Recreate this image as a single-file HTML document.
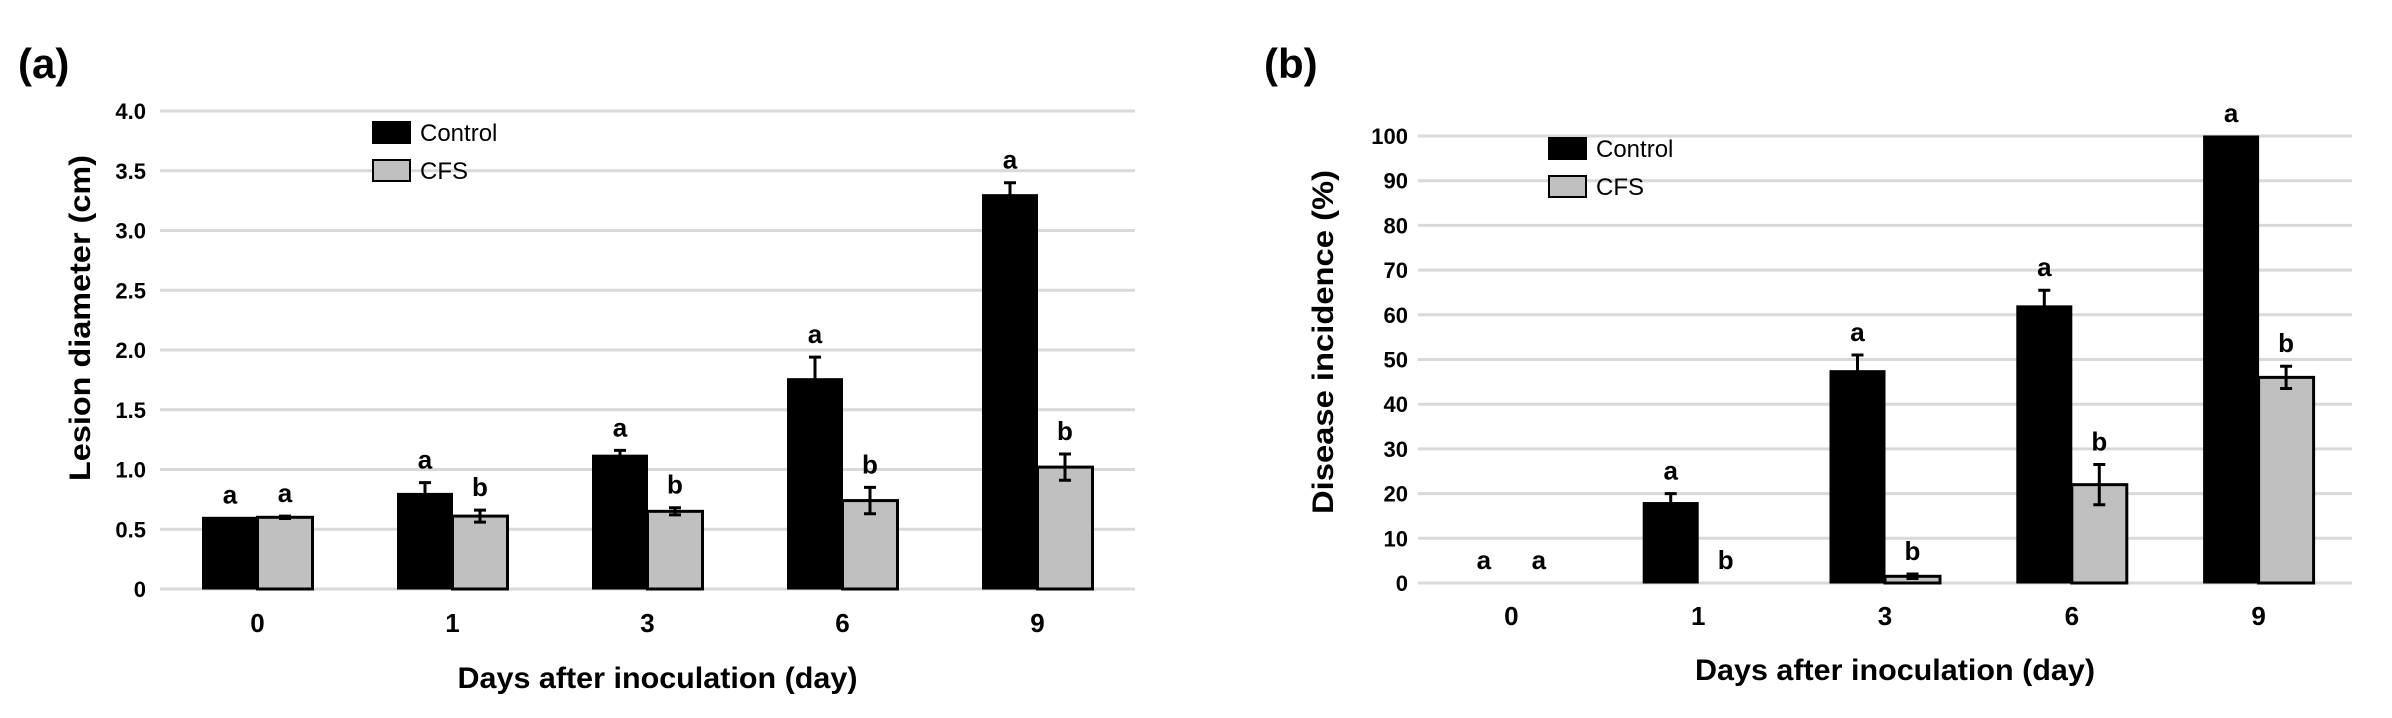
<!DOCTYPE html>
<html><head><meta charset="utf-8"><style>
html,body{margin:0;padding:0;background:#fff;width:2392px;height:718px;overflow:hidden}
svg{display:block;font-family:"Liberation Sans",Arial,sans-serif;font-weight:bold}
</style></head><body>
<svg id="chart" width="2392" height="718" viewBox="0 0 2392 718" xmlns="http://www.w3.org/2000/svg">
<text x="18" y="78" font-size="42">(a)</text>
<text x="1264" y="78" font-size="42">(b)</text>
</svg>
<script>
const categories = ["0","1","3","6","9"];
const aControl = [0.6, 0.8, 1.12, 1.76, 3.3];
const aControlErr = [0, 0.09, 0.04, 0.18, 0.1];
const aCFS = [0.6, 0.61, 0.65, 0.74, 1.02];
const aCFSErr = [0.01, 0.05, 0.03, 0.11, 0.11];
const aControlLetters = ["a","a","a","a","a"];
const aCFSLetters = ["a","b","b","b","b"];
const aTicks = [0, 0.5, 1.0, 1.5, 2.0, 2.5, 3.0, 3.5, 4.0];
const aTickLabels = ["0","0.5","1.0","1.5","2.0","2.5","3.0","3.5","4.0"];
const bControl = [0, 18, 47.5, 62, 100];
const bControlErr = [0, 2, 3.5, 3.5, 0];
const bCFS = [0, 0, 1.5, 22, 46];
const bCFSErr = [0, 0, 0.5, 4.5, 2.5];
const bControlLetters = ["a","a","a","a","a"];
const bCFSLetters = ["a","b","b","b","b"];
const bTicks = [0,10,20,30,40,50,60,70,80,90,100];
const bTickLabels = ["0","10","20","30","40","50","60","70","80","90","100"];

const svg = document.getElementById('chart');
const NS = 'http://www.w3.org/2000/svg';
function mk(tag, attrs, parent){const e=document.createElementNS(NS,tag);for(const k in attrs)e.setAttribute(k,attrs[k]);(parent||svg).appendChild(e);return e;}

function panel(cfg){
  const g = mk('g',{});
  
  
  const y = v => cfg.y0 - (v - 0) / cfg.max * (cfg.y0 - cfg.yTop);
  const band = (cfg.x1 - cfg.x0) / categories.length;
  const xc = i => cfg.x0 + band * (i + 0.5);
  const bw = 55;
  cfg.ticks.forEach((t, i) => {
    const ln = mk('line',{x1:cfg.x0,x2:cfg.x1,y1:y(t),y2:y(t),stroke:'#d9d9d9','stroke-width':3},g);
    
    
    const tx = mk('text',{x:cfg.tickX,y:y(t)+8,'font-size':22,'text-anchor':'end'},g);
    
    
    tx.textContent = cfg.tickLabels[i];
  });
  categories.forEach((c, i) => {
    const cx = xc(i);
    const vals = [cfg.ctrl[i], cfg.cfs[i]], errs = [cfg.ctrlErr[i], cfg.cfsErr[i]];
    const lets = [cfg.ctrlL[i], cfg.cfsL[i]];
    [0,1].forEach(s => {
      const bx = cx - bw + s * bw, v = vals[s];
      if (v > 0) {
        const r = mk('rect',{x:bx,y:y(v),width:bw,height:y(0)-y(v),fill:s?'#c0c0c0':'#000',stroke:'#000','stroke-width':s?3:1},g);
        
        
      }
      let top = y(v);
      if (errs[s] > 0) {
        const ex = bx + bw/2, t = y(v+errs[s]), b = y(Math.max(0,v-errs[s]));
        const eg = mk('path',{d:`M${ex},${t}V${b}M${ex-6},${t}H${ex+6}M${ex-6},${b}H${ex+6}`,stroke:'#000','stroke-width':3,fill:'none'},g);
        
        
        top = t;
      }
      const lt = mk('text',{x:bx+bw/2,y:Math.min(top, y(0)) - 14,'font-size':26,'text-anchor':'middle'},g);
      
      
      lt.textContent = lets[s];
    });
    const cl = mk('text',{x:cx,y:cfg.catY,'font-size':26,'text-anchor':'middle'},g);
    
    
    cl.textContent = c;
  });
  const xt = mk('text',{x:(cfg.x0+cfg.x1)/2+10,y:cfg.titleY,'font-size':30,'text-anchor':'middle',textLength:400,lengthAdjust:'spacingAndGlyphs'},g);
  
  
  xt.textContent = 'Days after inoculation (day)';
  const yt = mk('text',{x:0,y:0,'font-size':30,'text-anchor':'middle',transform:`translate(${cfg.ytX},${cfg.ytY}) rotate(-90)`,textLength:cfg.ytLen,lengthAdjust:'spacingAndGlyphs'},g);
  
  
  yt.textContent = cfg.yTitle;
  [['Control','#000',cfg.legY],['CFS','#c0c0c0',cfg.legY+38]].forEach(([n,f,ly]) => {
    const lr = mk('rect',{x:cfg.legX,y:ly,width:37,height:21,fill:f,stroke:'#000','stroke-width':2},g);
    
    
    const lt = mk('text',{x:cfg.legX+47,y:ly+19,'font-size':24,'font-weight':'normal'},g);
    
    
    lt.textContent = n;
  });
}
panel({id:'panel-a-chart',x0:160,x1:1135,y0:589,yTop:111,max:4,ticks:aTicks,tickLabels:aTickLabels,tickX:146,
  ctrl:aControl,ctrlErr:aControlErr,cfs:aCFS,cfsErr:aCFSErr,ctrlL:aControlLetters,cfsL:aCFSLetters,
  catY:632,titleY:688,yTitle:'Lesion diameter (cm)',ytX:90,ytY:318,ytLen:326,legX:373,legY:122});
panel({id:'panel-b-chart',x0:1418,x1:2352,y0:583,yTop:136,max:100,ticks:bTicks,tickLabels:bTickLabels,tickX:1408,
  ctrl:bControl,ctrlErr:bControlErr,cfs:bCFS,cfsErr:bCFSErr,ctrlL:bControlLetters,cfsL:bCFSLetters,
  catY:625,titleY:680,yTitle:'Disease incidence (%)',ytX:1333,ytY:342,ytLen:344,legX:1549,legY:138});
</script>
</body></html>
